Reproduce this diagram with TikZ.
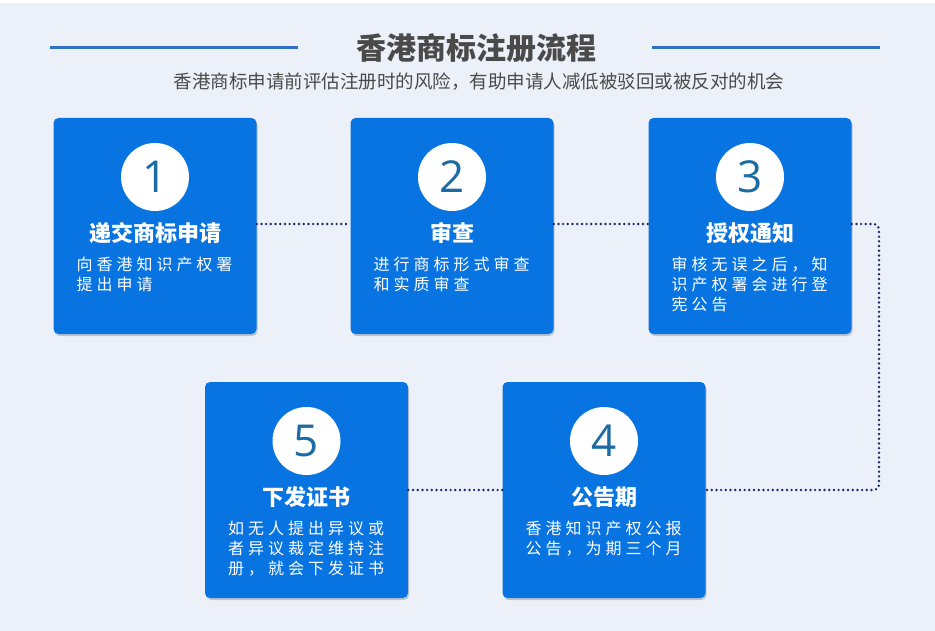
\documentclass[tikz,border=0pt]{standalone}
\usepackage{fontspec}
\newfontfamily\cjk{Noto Sans CJK SC}
\newfontfamily\cjkdesc{Noto Sans CJK SC}[LetterSpace=25]
\newfontfamily\numfont{Open Sans}
\usetikzlibrary{positioning}
\usetikzlibrary{shadows}
\definecolor{bgcol}{HTML}{ECF0F8}
\definecolor{boxblue}{HTML}{0874E2}
\definecolor{numcol}{HTML}{1C6CA3}
\definecolor{dotcol}{HTML}{1B2A6E}
\definecolor{linecol}{HTML}{2F6FC5}
\definecolor{titlecol}{HTML}{4A4A4A}
\tikzset{
    stepbox/.style = {rectangle, rounded corners=5pt, fill=boxblue, minimum width=203pt, minimum height=216pt, inner sep=0pt,
        drop shadow={shadow xshift=1pt, shadow yshift=-2pt, opacity=0.18, fill=black}},
    numcircle/.style = {circle, fill=white, minimum size=68pt, inner sep=0pt, font=\numfont\fontsize{44}{44}\selectfont, text=numcol},
    steptitle/.style = {font=\cjk\bfseries\fontsize{22}{24}\selectfont, text=white, inner sep=0pt},
    stepdesc/.style = {font=\cjkdesc\fontsize{16}{20}\selectfont, text=white, align=left, anchor=north west, inner sep=0pt},
    dotline/.style = {line width=2.7pt, dotcol, dash pattern=on 0pt off 4.7pt, line cap=round}, % connectors
    headline/.style = {line width=3pt, linecol},
    maintitle/.style = {font=\cjk\bfseries\fontsize{30}{32}\selectfont, text=titlecol, inner sep=0pt},
    subtitle/.style = {font=\cjk\fontsize{18.5}{20}\selectfont, text=titlecol, inner sep=0pt}
}

\begin{document}
\begin{tikzpicture}[x=1pt,y=-1pt]
  \useasboundingbox (0,0) rectangle (935,631);
  \fill[bgcol] (0,3) rectangle (935,631);

  % heading
  \node[maintitle] (title) at (476,48) {香港商标注册流程};
  \node[subtitle] (sub) at (479,82) {香港商标申请前评估注册时的风险，有助申请人减低被驳回或被反对的机会};
  \draw[headline] (50,48) -- (298,48);
  \draw[headline] (652,48) -- (880,48);

  % steps
  \node[stepbox] (b1) at (155,226) {};
  \node[stepbox] (b2) at (452,226) {};
  \node[stepbox] (b3) at (750,226) {};
  \node[stepbox] (b5) at (306.5,490) {};
  \node[stepbox] (b4) at (604,490) {};

  \node[numcircle, below=25pt of b1.north] (n1) {1};
  \node[numcircle, below=25pt of b2.north] (n2) {2};
  \node[numcircle, below=25pt of b3.north] (n3) {3};
  \node[numcircle, below=25pt of b4.north] (n4) {4};
  \node[numcircle, below=25pt of b5.north] (n5) {5};

  \node[steptitle] (t1) at ([yshift=-115pt]b1.north) {递交商标申请};
  \node[steptitle] (t2) at ([yshift=-115pt]b2.north) {审查};
  \node[steptitle] (t3) at ([yshift=-115pt]b3.north) {授权通知};
  \node[steptitle] (t4) at ([yshift=-115pt]b4.north) {公告期};
  \node[steptitle] (t5) at ([yshift=-115pt]b5.north) {下发证书};

  \node[stepdesc] (d1) at ([xshift=23pt,yshift=-139pt]b1.north west) {向香港知识产权署\\提出申请};
  \node[stepdesc] (d2) at ([xshift=23pt,yshift=-139pt]b2.north west) {进行商标形式审查\\和实质审查};
  \node[stepdesc] (d3) at ([xshift=23pt,yshift=-139pt]b3.north west) {审核无误之后，知\\识产权署会进行登\\宪公告};
  \node[stepdesc] (d4) at ([xshift=23pt,yshift=-139pt]b4.north west) {香港知识产权公报\\公告，为期三个月};
  \node[stepdesc] (d5) at ([xshift=23pt,yshift=-139pt]b5.north west) {如无人提出异议或\\者异议裁定维持注\\册，就会下发证书};

  % connectors
  \coordinate (bend) at (879,490);
  \draw[dotline] ([yshift=2pt]b1.east) -- ([yshift=2pt]b2.west);
  \draw[dotline] ([yshift=2pt]b2.east) -- ([yshift=2pt]b3.west);
  \draw[dotline, rounded corners=5pt] ([yshift=2pt]b3.east) -| (bend) -- (b4.east);
  \draw[dotline] (b4.west) -- (b5.east);

\end{tikzpicture}
\end{document}
